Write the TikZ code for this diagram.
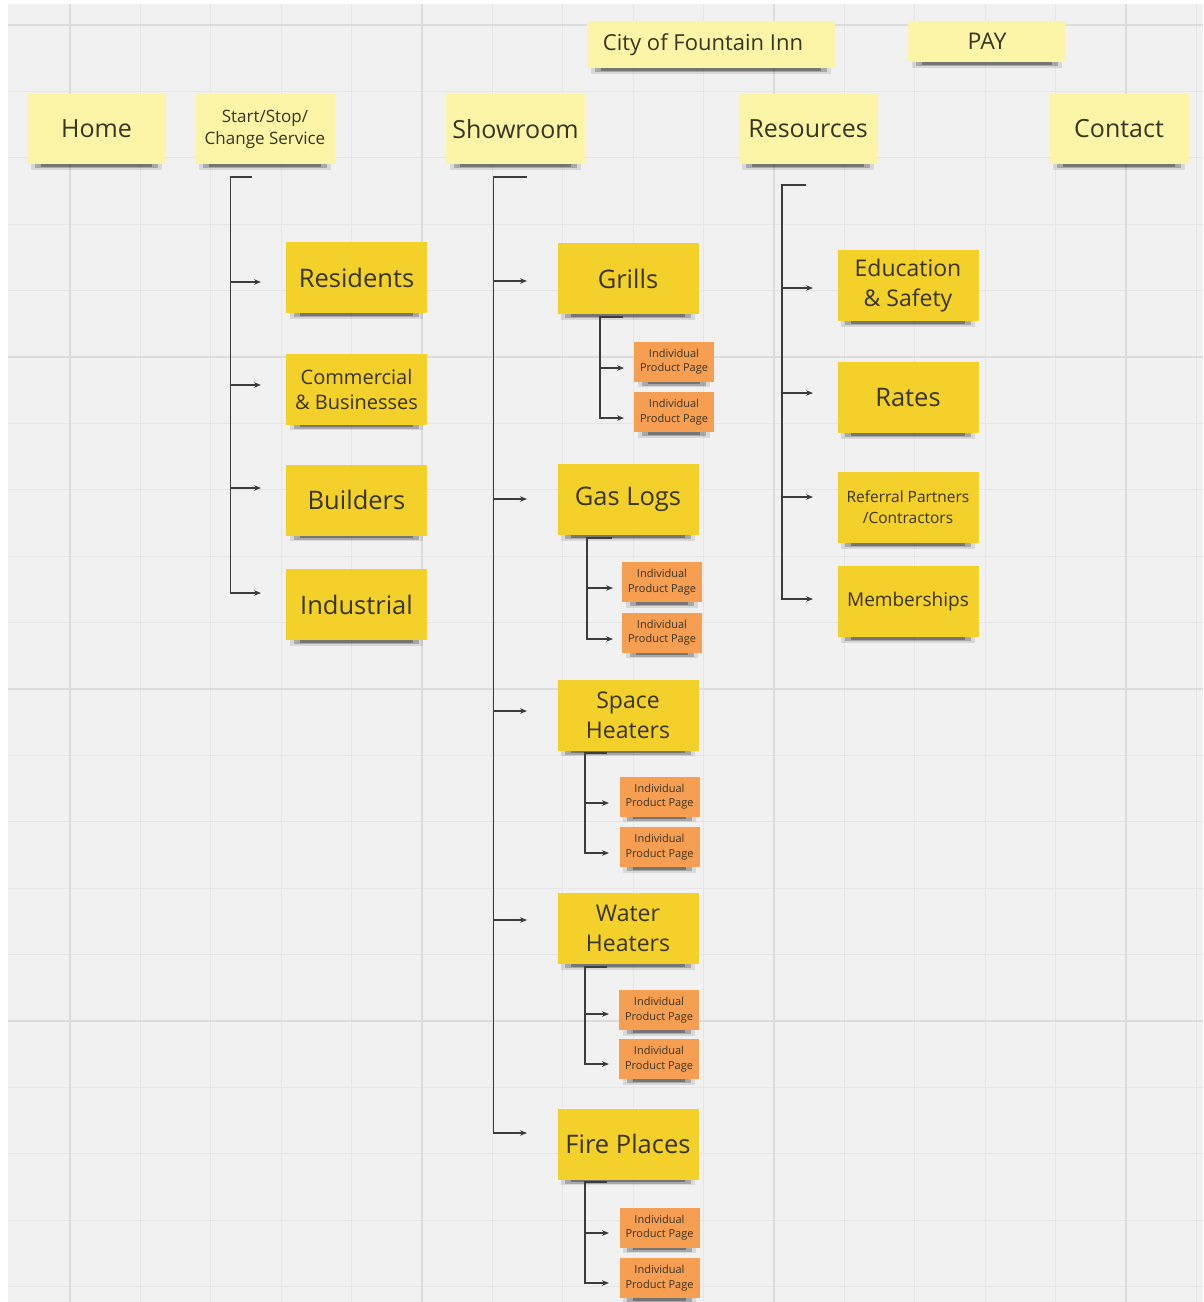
\documentclass[tikz,border=0pt]{standalone}
\usepackage{fontspec}
\setmainfont{Open Sans}
\usetikzlibrary{arrows.meta}
\definecolor{bgc}{RGB}{241,241,241}
\definecolor{gridc}{RGB}{229,229,229}
\definecolor{gridm}{RGB}{220,220,220}
\definecolor{lightY}{RGB}{252,245,168}
\definecolor{yelC}{RGB}{244,208,42}
\definecolor{oraC}{RGB}{246,158,82}
\definecolor{txtC}{RGB}{55,53,35}
\definecolor{lineC}{RGB}{60,60,60}
\newcommand\fsz[2]{\fontsize{#1}{#2}\selectfont}
\begin{document}
\begin{tikzpicture}[x=1pt,y=-1pt,
  note/.style={rectangle, inner sep=1pt, align=center, text=txtC,
    append after command={\pgfextra{%
      \fill[black, opacity=.10] ([xshift=4pt]\tikzlastnode.south west) rectangle ([xshift=-4pt,yshift=-5.5pt]\tikzlastnode.south east);
      \fill[black, opacity=.22] ([xshift=8pt]\tikzlastnode.south west) rectangle ([xshift=-8pt,yshift=-4pt]\tikzlastnode.south east);
      \fill[black, opacity=.30] ([xshift=14pt]\tikzlastnode.south west) rectangle ([xshift=-14pt,yshift=-2.5pt]\tikzlastnode.south east);}}},
  lnote/.style={note, fill=lightY, minimum width=139, minimum height=70},
  ynote/.style={note, fill=yelC, minimum width=141, minimum height=71},
  onote/.style={note, fill=oraC, minimum width=80, minimum height=40, font=\fsz{11}{14.5}},
  big/.style={font=\fsz{25.5}{30}},
  hdr/.style={font=\fsz{25}{29}},
  conn/.style={draw=lineC, line width=1.2pt},
  arr/.style={conn, -{Stealth[length=7pt,width=5.5pt]}}
]
\useasboundingbox (0,0) rectangle (1203,1302);
\fill[white] (0,0) rectangle (1203,1302);
\fill[bgc] (8,4) rectangle (1203,1302);
% grid
\foreach \k in {0,...,16} {\draw[gridc, line width=1pt] ({70+70.4*\k},4) -- ({70+70.4*\k},1302);}
\foreach \k in {0,...,19} {\draw[gridc, line width=1pt] (8,{25+66.4*\k}) -- (1203,{25+66.4*\k});}
\foreach \k in {0,5,10,15} {\draw[gridm, line width=1.6pt] ({70+70.4*\k},4) -- ({70+70.4*\k},1302);}
\foreach \k in {0,5,10,15} {\draw[gridm, line width=1.6pt] (8,{25+66.4*\k}) -- (1203,{25+66.4*\k});}

% top row
\node[lnote, minimum width=248, minimum height=47, font=\fsz{22}{26}] (city) at (711,44.5) {City of Fountain Inn\hspace*{16pt}};
\node[lnote, minimum width=158, minimum height=41, font=\fsz{23}{26}] (pay) at (987,41.5) {PAY};
\node[lnote, hdr] (home) at (96.5,129) {Home};
\node[lnote, font=\fsz{17}{22}] (start) at (265,129) {Start/Stop/\\Change Service};
\node[lnote, hdr] (show) at (515.5,129) {Showroom};
\node[lnote, hdr] (reso) at (808,129) {Resources};
\node[lnote, hdr] (cont) at (1119,129) {Contact};

% service column
\node[ynote, big] (resi) at (356.5,277.5) {Residents};
\node[ynote, font=\fsz{20}{25}] (comm) at (356.5,389) {Commercial\\\& Businesses};
\node[ynote, big] (buil) at (356.5,500) {Builders};
\node[ynote, big] (indu) at (356.5,604.5) {Industrial};

% showroom column
\node[ynote, big] (gril) at (628,278.5) {Grills};
\node[ynote, big] (gasl) at (628,499.5) {Gas Logs};
\node[ynote, font=\fsz{23}{30}] (spac) at (628,715) {Space\\Heaters};
\node[ynote, font=\fsz{23}{30}] (watr) at (628,928.5) {Water\\Heaters};
\node[ynote, big] (fire) at (628,1144) {Fire Places};

\node[onote] (g1) at (674,361.5) {Individual\\Product Page};
\node[onote] (g2) at (674,412) {Individual\\Product Page};
\node[onote] (l1) at (662,582) {Individual\\Product Page};
\node[onote] (l2) at (662,632.5) {Individual\\Product Page};
\node[onote] (s1) at (659.5,796.5) {Individual\\Product Page};
\node[onote] (s2) at (659.5,847) {Individual\\Product Page};
\node[onote] (w1) at (659,1010) {Individual\\Product Page};
\node[onote] (w2) at (659,1059) {Individual\\Product Page};
\node[onote] (f1) at (659.5,1227.5) {Individual\\Product Page};
\node[onote] (f2) at (659.5,1278) {Individual\\Product Page};

% resources column
\node[ynote, font=\fsz{23}{30}] (educ) at (908,285.5) {Education\\\& Safety};
\node[ynote, big] (rate) at (908,397.5) {Rates};
\node[ynote, font=\fsz{15.5}{21}] (refe) at (908,507.5) {Referral Partners\\/Contractors};
\node[ynote, font=\fsz{19}{24}] (memb) at (908,601.5) {Memberships};

% ---- connectors: service
\coordinate (sA) at (252,177); \coordinate (sB) at (230.5,177);
\coordinate (sC) at (230.5,593); \coordinate (sT4) at (261,593);
\coordinate (sO1) at (230.5,282); \coordinate (sT1) at (261,282);
\coordinate (sO2) at (230.5,385); \coordinate (sT2) at (261,385);
\coordinate (sO3) at (230.5,488); \coordinate (sT3) at (261,488);
\draw[arr] (sA) -- (sB) -- (sC) -- (sT4);
\draw[arr] (sO1) -- (sT1);
\draw[arr] (sO2) -- (sT2);
\draw[arr] (sO3) -- (sT3);

% ---- connectors: showroom
\coordinate (hA) at (527,177); \coordinate (hB) at (493.5,177);
\coordinate (hC) at (493.5,1133); \coordinate (hT5) at (527,1133);
\coordinate (hO1) at (493.5,281); \coordinate (hT1) at (527,281);
\coordinate (hO2) at (493.5,499); \coordinate (hT2) at (527,499);
\coordinate (hO3) at (493.5,711); \coordinate (hT3) at (527,711);
\coordinate (hO4) at (493.5,920); \coordinate (hT4) at (527,920);
\draw[arr] (hA) -- (hB) -- (hC) -- (hT5);
\draw[arr] (hO1) -- (hT1);
\draw[arr] (hO2) -- (hT2);
\draw[arr] (hO3) -- (hT3);
\draw[arr] (hO4) -- (hT4);

% ---- connectors: resources
\coordinate (rA) at (806,185); \coordinate (rB) at (782,185);
\coordinate (rC) at (782,599); \coordinate (rT4) at (813,599);
\coordinate (rO1) at (782,288); \coordinate (rT1) at (813,288);
\coordinate (rO2) at (782,393); \coordinate (rT2) at (813,393);
\coordinate (rO3) at (782,497); \coordinate (rT3) at (813,497);
\draw[arr] (rA) -- (rB) -- (rC) -- (rT4);
\draw[arr] (rO1) -- (rT1);
\draw[arr] (rO2) -- (rT2);
\draw[arr] (rO3) -- (rT3);

% ---- sub connectors
% grills
\coordinate (gA) at (623,317); \coordinate (gB) at (600,317);
\coordinate (gC) at (600,418); \coordinate (gT2) at (624,418);
\coordinate (gO1) at (600,368); \coordinate (gT1) at (624,368);
\draw[arr] (gA) -- (gB) -- (gC) -- (gT2);
\draw[arr] (gO1) -- (gT1);
% gas logs
\coordinate (lA) at (612,538); \coordinate (lB) at (587,538);
\coordinate (lC) at (587,639); \coordinate (lT2) at (613,639);
\coordinate (lO1) at (587,588); \coordinate (lT1) at (613,588);
\draw[arr] (lA) -- (lB) -- (lC) -- (lT2);
\draw[arr] (lO1) -- (lT1);
% space heaters
\coordinate (pA) at (607,753); \coordinate (pB) at (585,753);
\coordinate (pC) at (585,853); \coordinate (pT2) at (609,853);
\coordinate (pO1) at (585,803); \coordinate (pT1) at (609,803);
\draw[arr] (pA) -- (pB) -- (pC) -- (pT2);
\draw[arr] (pO1) -- (pT1);
% water heaters
\coordinate (wA) at (607,967); \coordinate (wB) at (585,967);
\coordinate (wC) at (585,1064); \coordinate (wT2) at (609,1064);
\coordinate (wO1) at (585,1014); \coordinate (wT1) at (609,1014);
\draw[arr] (wA) -- (wB) -- (wC) -- (wT2);
\draw[arr] (wO1) -- (wT1);
% fire places
\coordinate (fA) at (607,1182); \coordinate (fB) at (585,1182);
\coordinate (fC) at (585,1283); \coordinate (fT2) at (609,1283);
\coordinate (fO1) at (585,1233); \coordinate (fT1) at (609,1233);
\draw[arr] (fA) -- (fB) -- (fC) -- (fT2);
\draw[arr] (fO1) -- (fT1);
\end{tikzpicture}
\end{document}
